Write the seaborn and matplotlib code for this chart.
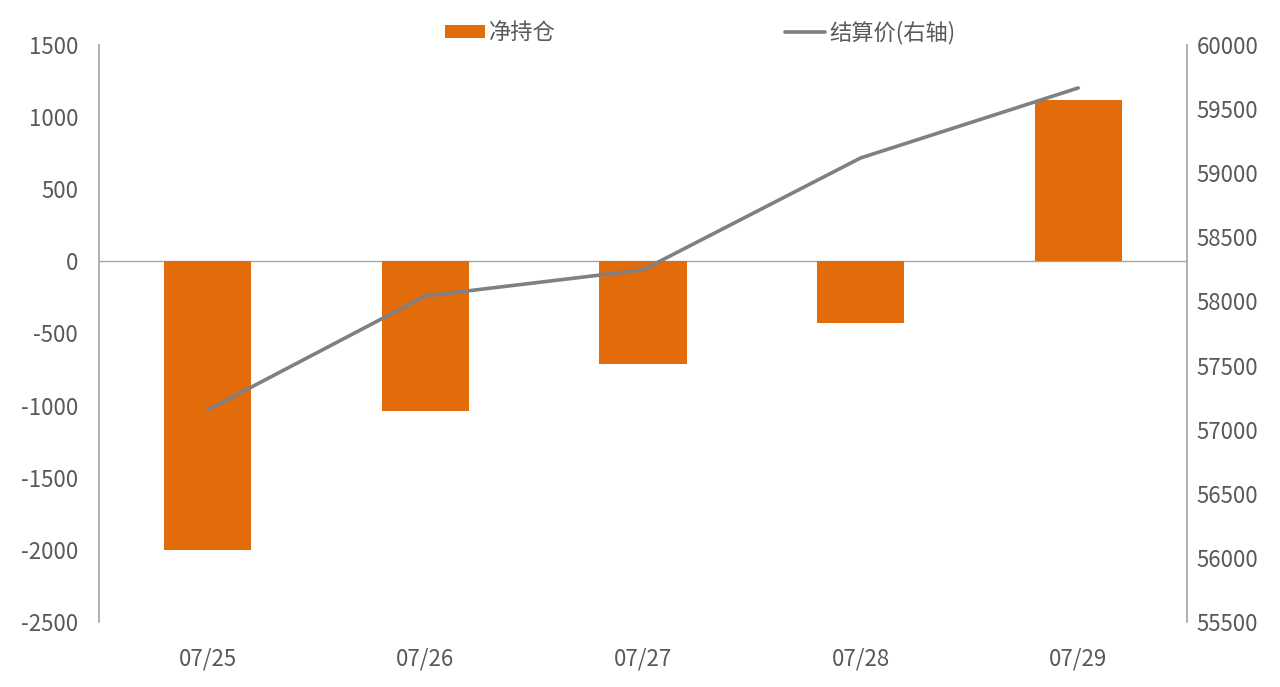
import matplotlib
matplotlib.use("Agg")
import matplotlib.pyplot as plt
import seaborn as sns
import numpy as np
import pandas as pd
from matplotlib.patches import Patch
from matplotlib.lines import Line2D

dates = ["07/25", "07/26", "07/27", "07/28", "07/29"]
net_position = [-2003, -1040, -714, -430, 1116]
settle_price = [57154, 58043, 58246, 59119, 59665]
left_ticks = list(range(-2500, 1501, 500))
right_ticks = list(range(55500, 60001, 500))

sns.set_theme(style="white")
plt.rcParams['font.family'] = ['Noto Sans CJK SC', 'DejaVu Sans']
plt.rcParams['axes.unicode_minus'] = False

bar_color = "#E36C0A"
line_color = "#808080"
text_color = "#595959"
spine_color = "#A6A6A6"

df = pd.DataFrame({"date": dates, "net": net_position, "price": settle_price})

fig = plt.figure(figsize=(12.8, 6.87), dpi=100)
ax = fig.add_axes([99/1280, (687-622)/687, (1187-99)/1280, (622-45)/687])
sns.barplot(data=df, x="date", y="net", color=bar_color, width=0.4,
            saturation=1, linewidth=0, ax=ax, zorder=2)
ax.set_ylim(-2500, 1500)
ax.set_yticks(left_ticks)
ax.set_xlim(-0.5, 4.5)
ax.axhline(0, color=spine_color, lw=1, zorder=1)
ax.set_xlabel("")
ax.set_ylabel("")

ax2 = ax.twinx()
sns.lineplot(x=np.arange(len(dates)), y=df["price"], color=line_color,
             lw=2.6, ax=ax2, zorder=3)
ax2.set_ylim(55500, 60000)
ax2.set_yticks(right_ticks)
ax2.set_xlim(-0.5, 4.5)
ax2.set_ylabel("")

for a in (ax, ax2):
    for s in ("top", "bottom"):
        a.spines[s].set_visible(False)
    a.spines["left"].set_color(spine_color)
    a.spines["right"].set_color(spine_color)
    a.tick_params(axis="both", length=0, labelsize=16, colors=text_color)
ax.spines["right"].set_visible(False)
ax2.spines["left"].set_visible(False)
ax.tick_params(axis="y", pad=15)
ax2.tick_params(axis="y", pad=7)
ax.tick_params(axis="x", pad=18)
ax.set_xticks(range(len(dates)))
ax.set_xticklabels(dates)

handles = [Patch(facecolor=bar_color, edgecolor="none"),
           Line2D([0], [0], color=line_color, lw=2.6)]
fig.legend(handles, ["净持仓", "结算价(右轴)"], loc="center", ncol=2,
           bbox_to_anchor=(0.547, 0.953), frameon=False, fontsize=16,
           labelcolor=text_color, handlelength=1.8, handleheight=0.5,
           handletextpad=0.2, columnspacing=10.3)

fig.savefig("out.png", dpi=100)
